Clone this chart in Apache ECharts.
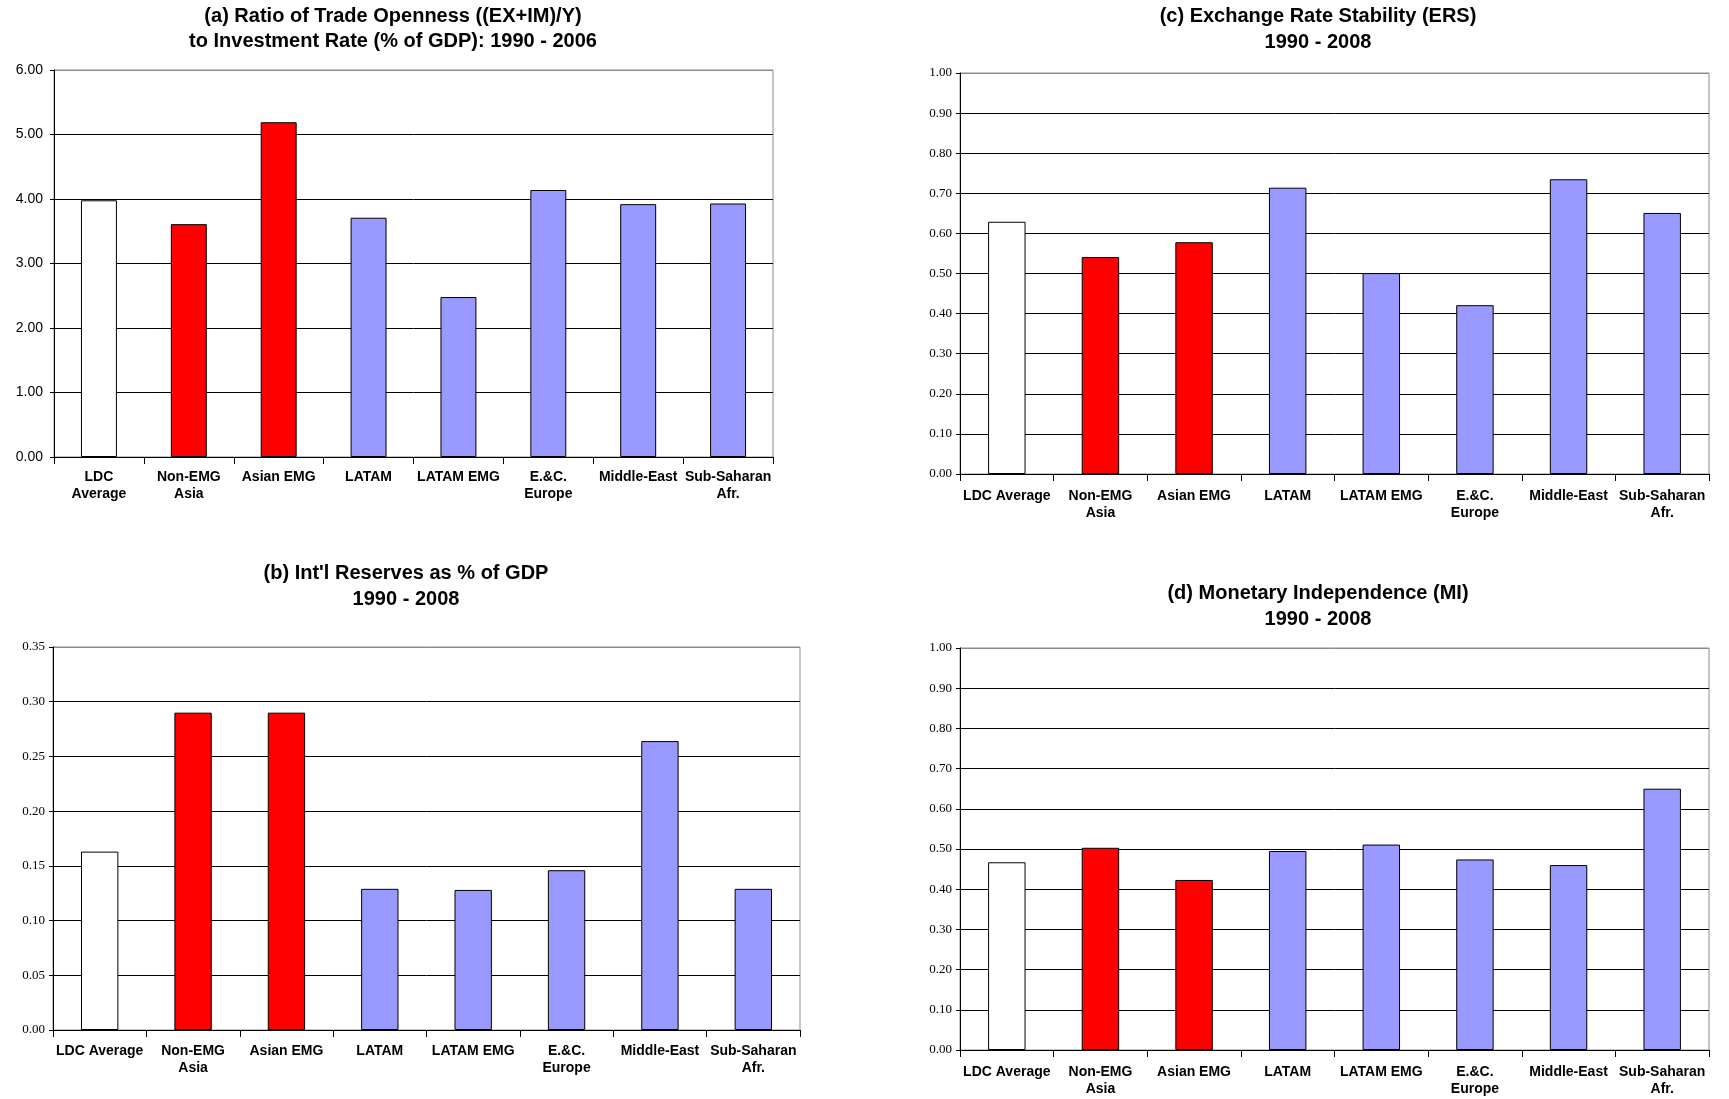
<!DOCTYPE html>
<html>
<head>
<meta charset="utf-8">
<title>Trilemma indicators by region</title>
<script src="https://cdn.jsdelivr.net/npm/echarts@6/dist/echarts.min.js"></script>
<style>
  html, body { margin: 0; padding: 0; background: #fff; }
  #chart { width: 1729px; height: 1099px; }
</style>
</head>
<body>
<div id="chart"></div>
<script>
// Region groups (panel a uses two-line labels for the first category)
const regionsA = ['LDC\nAverage', 'Non-EMG\nAsia', 'Asian EMG', 'LATAM', 'LATAM EMG', 'E.&C.\nEurope', 'Middle-East', 'Sub-Saharan\nAfr.'];
const regions = ['LDC Average', 'Non-EMG\nAsia', 'Asian EMG', 'LATAM', 'LATAM EMG', 'E.&C.\nEurope', 'Middle-East', 'Sub-Saharan\nAfr.'];

// (a) Ratio of trade openness to investment rate, 1990-2006
const tradeToInvestment = [3.98, 3.61, 5.19, 3.71, 2.48, 4.14, 3.92, 3.93];
// (b) International reserves as share of GDP, 1990-2008
const reservesToGdp = [0.163, 0.290, 0.290, 0.129, 0.128, 0.146, 0.264, 0.129];
// (c) Exchange rate stability index, 1990-2008
const exchangeRateStability = [0.629, 0.541, 0.578, 0.714, 0.501, 0.421, 0.735, 0.651];
// (d) Monetary independence index, 1990-2008
const monetaryIndependence = [0.467, 0.503, 0.423, 0.495, 0.511, 0.474, 0.460, 0.650];

// Fill per region: overall average, Asian groups, other regions
const barFills = ['#FFFFFF', '#FF0000', '#FF0000', '#9999FF', '#9999FF', '#9999FF', '#9999FF', '#9999FF'];

const SANS = "'Liberation Sans', Arial, sans-serif";
const SERIF = "'Liberation Serif', 'Times New Roman', serif";

const panels = [
  { title: '(a) Ratio of Trade Openness ((EX+IM)/Y)\nto Investment Rate (% of GDP): 1990 - 2006',
    titleX: 393, titleY: 4, lineH: 25,
    grid: { left: 54, top: 70, width: 719, height: 387 },
    cats: regionsA, values: tradeToInvestment, max: 6, interval: 1,
    tickFont: SANS, tickSize: 14, yMargin: 11, xMargin: 12 },
  { title: '(c) Exchange Rate Stability (ERS)\n1990 - 2008',
    titleX: 1318, titleY: 3, lineH: 26,
    grid: { left: 960, top: 73, width: 749, height: 401 },
    cats: regions, values: exchangeRateStability, max: 1, interval: 0.1,
    tickFont: SERIF, tickSize: 13, yMargin: 8, xMargin: 14 },
  { title: "(b) Int'l Reserves as % of GDP\n1990 - 2008",
    titleX: 406, titleY: 560, lineH: 26,
    grid: { left: 53, top: 647, width: 747, height: 383 },
    cats: regions, values: reservesToGdp, max: 0.35, interval: 0.05,
    tickFont: SERIF, tickSize: 13, yMargin: 8, xMargin: 13 },
  { title: '(d) Monetary Independence (MI)\n1990 - 2008',
    titleX: 1318, titleY: 580, lineH: 26,
    grid: { left: 960, top: 648, width: 749, height: 402 },
    cats: regions, values: monetaryIndependence, max: 1, interval: 0.1,
    tickFont: SERIF, tickSize: 13, yMargin: 8, xMargin: 14 }
];

const option = {
  animation: false,
  backgroundColor: '#ffffff',
  title: [], grid: [], xAxis: [], yAxis: [], series: []
};

panels.forEach((p, i) => {
  option.title.push({
    text: p.title,
    left: p.titleX, top: p.titleY, padding: 0,
    textAlign: 'center',
    textStyle: { fontFamily: SANS, fontSize: 20, fontWeight: 'bold', color: '#000', lineHeight: p.lineH }
  });
  option.grid.push(Object.assign({ show: true, borderColor: '#8c8c8c', borderWidth: 1, backgroundColor: 'transparent' }, p.grid));

  option.xAxis.push({
    type: 'category', gridIndex: i, data: p.cats,
    axisLine: { show: true, lineStyle: { color: '#000', width: 1 } },
    axisTick: { show: true, length: 7, lineStyle: { color: '#000' } },
    axisLabel: { interval: 0, margin: p.xMargin, color: '#000', fontFamily: SANS, fontWeight: 'bold', fontSize: 14, lineHeight: 17, hideOverlap: false },
    splitLine: { show: false }
  });

  // Gridlines are black; the top edge belongs to the grey plot frame
  const nLines = Math.round(p.max / p.interval) + 1;
  const lineColors = Array.from({ length: nLines }, (_, k) => (k === nLines - 1 ? '#8c8c8c' : '#000'));
  option.yAxis.push({
    type: 'value', gridIndex: i, min: 0, max: p.max, interval: p.interval,
    axisLine: { show: true, lineStyle: { color: '#000', width: 1 } },
    axisTick: { show: true, length: 4, lineStyle: { color: '#000' } },
    axisLabel: { margin: p.yMargin, color: '#000', fontFamily: p.tickFont, fontSize: p.tickSize,
      formatter: v => v.toFixed(2) },
    splitLine: { show: true, lineStyle: { color: lineColors, width: 1 } }
  });

  option.series.push({
    type: 'bar', xAxisIndex: i, yAxisIndex: i,
    barWidth: '40%',
    data: p.values.map((v, k) => ({ value: v, itemStyle: { color: barFills[k] } })),
    itemStyle: { borderColor: '#000', borderWidth: 1 },
    emphasis: { disabled: true }
  });
});

const chart = echarts.init(document.getElementById('chart'), null, { renderer: 'canvas' });
chart.setOption(option);
</script>
</body>
</html>
